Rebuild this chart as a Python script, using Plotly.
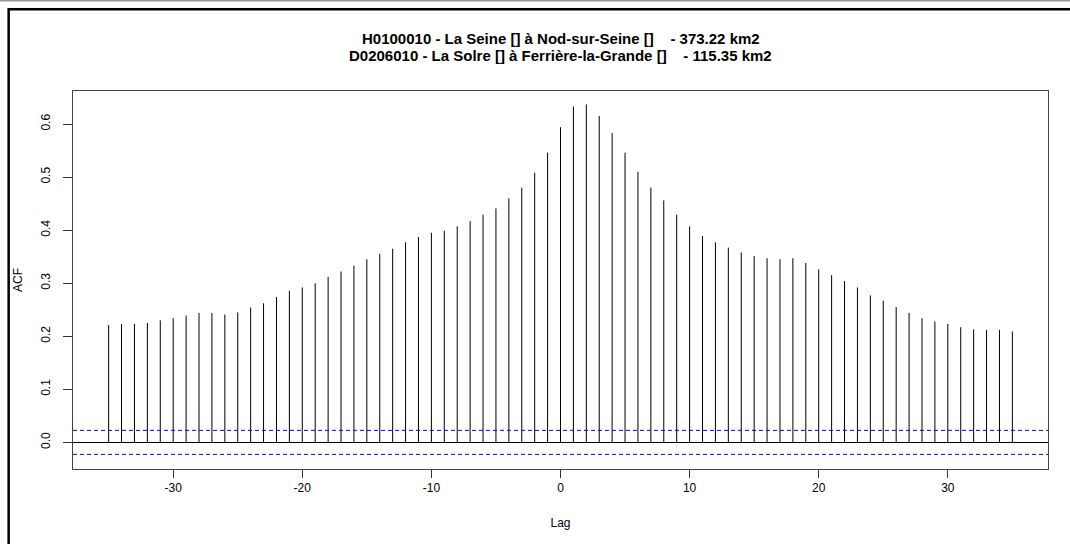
import plotly.graph_objects as go

# ---- data ----
lags = list(range(-35, 36))
acf_values = [
    0.221, 0.223, 0.223, 0.225, 0.230, 0.234, 0.239, 0.244, 0.244, 0.241,
    0.245, 0.254, 0.262, 0.274, 0.286, 0.292, 0.300, 0.312, 0.322, 0.333,
    0.345, 0.355, 0.365, 0.377, 0.387, 0.395, 0.399, 0.407, 0.417, 0.429,
    0.441, 0.460, 0.480, 0.508, 0.546, 0.594, 0.633, 0.637, 0.615, 0.583,
    0.546, 0.510, 0.480, 0.456, 0.429, 0.407, 0.389, 0.377, 0.367, 0.358,
    0.351, 0.347, 0.345, 0.347, 0.338, 0.326, 0.315, 0.304, 0.292, 0.277,
    0.267, 0.255, 0.244, 0.234, 0.228, 0.223, 0.217, 0.213, 0.212, 0.212,
    0.209,
]
ci = 0.0226
x_ticks = [-30, -20, -10, 0, 10, 20, 30]
y_ticks = [0.0, 0.1, 0.2, 0.3, 0.4, 0.5, 0.6]
title_lines = [
    "H0100010 - La Seine [] à Nod-sur-Seine []\u00a0\u00a0\u00a0 - 373.22 km2",
    "D0206010 - La Solre [] à Ferrière-la-Grande []\u00a0\u00a0\u00a0 - 115.35 km2",
]

# stems (type = "h")
sx, sy = [], []
for lag, v in zip(lags, acf_values):
    sx += [lag, lag, None]
    sy += [0, v, None]

fig = go.Figure()
fig.add_trace(go.Scatter(x=sx, y=sy, mode="lines",
                         line=dict(color="black", width=1),
                         hoverinfo="skip", showlegend=False))

# confidence bounds
for level in (ci, -ci):
    fig.add_shape(type="line", xref="paper", yref="y", x0=0, x1=1,
                  y0=level, y1=level,
                  line=dict(color="#0000FF", width=1, dash="4px,3px"))

# outer picture border
fig.add_shape(type="rect", xref="paper", yref="paper",
              x0=-0.066, x1=1.05, y0=-0.25, y1=1.216,
              line=dict(color="black", width=2.5), fillcolor="rgba(0,0,0,0)",
              layer="above")
fig.add_shape(type="line", xref="paper", yref="paper",
              x0=-0.1, x1=1.05, y0=1.239, y1=1.239,
              line=dict(color="#999999", width=1.5))

font_family = "Liberation Sans, Arial, Helvetica, sans-serif"

# two-line main title as annotations (tight R-like line spacing)
for txt, ypos in zip(title_lines, (1.1402, 1.0952)):
    fig.add_annotation(text="<b>" + txt + "</b>", xref="paper", yref="paper",
                       x=0.5, y=ypos, xanchor="center", yanchor="middle",
                       showarrow=False,
                       font=dict(family=font_family, size=15, color="black"))

fig.update_layout(
    width=1070, height=544,
    margin=dict(l=73, r=22, t=91, b=75),
    paper_bgcolor="white", plot_bgcolor="white",
    font=dict(family=font_family, size=11, color="black"),
    showlegend=False,
)

fig.update_xaxes(
    range=[-37.76, 37.76],
    tickmode="array", tickvals=x_ticks, ticktext=[str(t) for t in x_ticks],
    ticks="outside", ticklen=8, tickcolor="#333333", tickwidth=1,
    showline=True, linecolor="#444444", linewidth=1, mirror=True,
    showgrid=False, zeroline=False,
    title=dict(text="Lag", font=dict(size=12), standoff=24),
    tickfont=dict(size=12),
)
fig.update_yaxes(
    range=[-0.0502, 0.6622],
    tickmode="array", tickvals=y_ticks, ticktext=[f"{t:.1f}" for t in y_ticks],
    tickangle=-90, ticklabelstandoff=8,
    ticks="outside", ticklen=9, tickcolor="#333333", tickwidth=1,
    showline=True, linecolor="#444444", linewidth=1, mirror=True,
    showgrid=False, zeroline=True, zerolinecolor="black", zerolinewidth=1,
    title=dict(text="ACF", font=dict(size=12), standoff=14),
    tickfont=dict(size=12),
)

fig.write_html("out.html")
